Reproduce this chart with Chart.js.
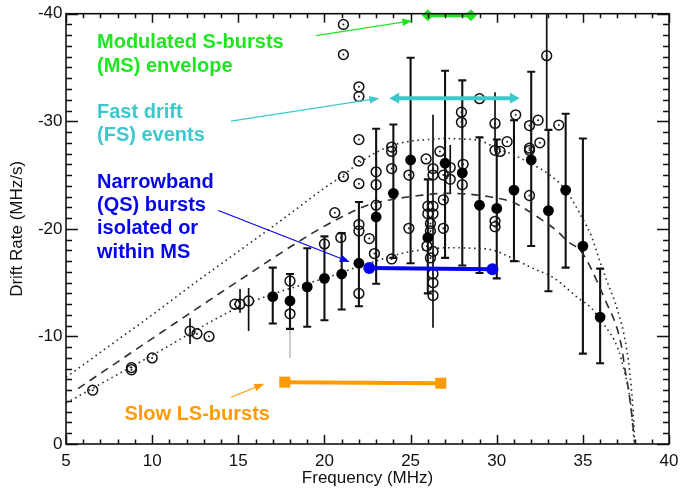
<!DOCTYPE html>
<html>
<head>
<meta charset="utf-8">
<script src="https://cdn.jsdelivr.net/npm/chart.js@4.4.1/dist/chart.umd.min.js"></script>
<style>
  html, body { margin: 0; padding: 0; background: #fff; }
  canvas { display: block; }
</style>
</head>
<body>
<canvas id="chart" width="686" height="490"></canvas>
<script>
// Mean drift rate per frequency bin, with error bar extents
const meanFreq      = [17, 18, 19, 20, 21, 22, 23, 24, 25, 26, 27, 28, 29, 30, 31, 32, 33, 34, 35, 36];
const meanRate      = [-13.7, -13.3, -14.6, -15.4, -15.8, -16.8, -21.1, -23.3, -26.4, -19.2,
                       -26.1, -25.2, -22.2, -21.9, -23.6, -26.4, -21.7, -23.6, -18.4, -11.8];
const meanErrTop    = [-16.4, -15.8, -18.2, -19.3, -19.6, -22.5, -29.3, -29.7, -35.9, -24.6,
                       -34.7, -33.8, -28.5, -28.3, -30.1, -34.6, -29.2, -30.7, -28.4, -16.3];
const meanErrBottom = [-11.2, -10.7, -10.9, -11.5, -12.5, -12.8, -14.9, -17.3, -16.8, -14.0,
                       -17.3, -16.6, -15.9, -15.4, -17.0, -18.4, -14.2, -16.4, -8.4, -7.5];

// Individual events (open circles)
const eventFreq = [6.55, 8.8, 8.8, 10.0, 12.2, 12.6, 13.3, 14.8, 15.1, 15.6,
                   18.0, 18.0, 20.0, 20.6, 20.95, 21.1, 21.1, 21.1, 22.0, 22.0,
                   22.0, 22.0, 22.0, 22.0, 22.0, 22.0, 22.6, 23.0, 23.0, 23.0,
                   22.9, 23.9, 23.9, 23.9, 23.9, 24.9, 24.9, 25.9, 26.3, 26.3,
                   26.0, 26.3, 26.0, 26.3, 26.15, 26.15, 25.95, 26.3, 26.15, 26.3,
                   26.3, 26.3, 26.7, 26.9, 27.3, 27.3, 26.9, 26.9, 27.95, 27.95,
                   28.05, 28.0, 29.0, 29.9, 29.9, 30.2, 30.6, 29.9, 29.9, 31.1,
                   31.9, 32.4, 31.9, 31.9, 32.5, 31.9, 32.9, 33.6];
const eventRate = [-5.0, -6.9, -7.1, -8.0, -10.5, -10.25, -10.0, -13.0, -13.0, -13.3,
                   -15.15, -12.1, -18.6, -21.5, -19.2, -39.0, -36.2, -24.85, -33.2, -32.3,
                   -28.3, -26.3, -24.2, -20.4, -19.8, -14.0, -19.1, -25.3, -24.1, -22.2,
                   -17.7, -27.6, -27.2, -25.6, -17.2, -25.0, -20.05, -26.5, -25.6, -25.0,
                   -22.1, -22.1, -21.4, -21.4, -20.5, -19.8, -18.4, -17.9, -17.3, -15.8,
                   -15.0, -13.8, -27.2, -25.0, -24.6, -25.7, -22.7, -20.05, -30.85, -29.9,
                   -26.0, -24.1, -32.1, -29.8, -27.3, -27.2, -28.1, -20.7, -20.2, -30.6,
                   -29.6, -30.1, -27.5, -27.3, -28.0, -23.1, -36.1, -29.65];

// Error extents attached to some individual events
const eventBarFreq   = [12.2, 15.1, 15.6, 26.3, 27.3, 29.9, 32.9];
const eventBarTop    = [-11.7, -14.4, -14.5, -30.6, -27.8, -32.7, -40.0];
const eventBarBottom = [-9.3, -12.2, -10.5, -10.8, -23.3, -27.3, -29.2];
const faintBarFreq   = [18.0];
const faintBarTop    = [-15.2];
const faintBarBottom = [-8.0];

// Model curves
const upperFreq = [5, 7.5, 10, 12.5, 15, 17.5, 20, 21, 22, 23, 24, 25, 26, 27, 28, 29, 30, 31, 32, 33,
                   34, 35, 35.5, 36, 36.5, 37, 37.5, 37.8, 37.95, 38];
const upperRate = [-6.2, -9.1, -12.0, -15.0, -17.9, -20.8, -23.8, -24.9, -26.1, -27.1, -27.8, -28.15,
                   -28.3, -28.4, -28.35, -28.2, -27.5, -26.85, -26.05, -25.1, -23.6, -20.9, -19.3,
                   -16.9, -14.7, -12.5, -9.2, -5.4, -2.0, 0];
const dashFreq  = [5.7, 10, 15, 19.3, 21, 22.5, 24, 25.5, 27, 28.2, 29.5, 30.9, 31.6, 32.6, 33.5,
                   34.1, 34.9, 35.45, 35.8, 36.4, 36.9, 37.25, 37.45, 37.65, 37.85, 37.95];
const dashRate  = [-5.15, -9.8, -15.15, -19.6, -21.1, -22.2, -22.75, -23.1, -23.3, -23.25, -23.0,
                   -22.5, -21.9, -20.85, -19.8, -18.85, -17.9, -16.4, -15.2, -13.0, -11.15, -9.0,
                   -6.85, -5.0, -2.5, -1.0];
const lowFreq   = [5, 10, 15, 16, 17.5, 20, 22, 23.6, 24.7, 26, 27.2, 28.5, 29.7, 31, 32, 33.3,
                   34.7, 35.45, 36.2, 37, 37.45, 37.75, 37.93, 38];
const lowRate   = [-3.8, -8.25, -12.7, -13.35, -14.2, -15.4, -16.5, -17.3, -17.8, -18.1, -18.25,
                   -18.2, -18.05, -17.2, -16.4, -15.45, -13.6, -12.7, -11.15, -9.0, -6.5, -4.1,
                   -1.0, 0];

// Burst-type ranges
const msFreq = [26.0, 28.5];  const msRate = [-39.85, -39.85];
const fsFreq = [24.15, 30.95]; const fsRate = [-32.15, -32.15];
const qsFreq = [22.6, 29.75]; const qsRate = [-16.35, -16.25];
const lsFreq = [17.7, 26.75]; const lsRate = [-5.75, -5.65];

// Axis ticks
const xTickLabels = [5, 10, 15, 20, 25, 30, 35, 40];
const yTickLabels = [-40, -30, -20, -10, 0];

const GREEN = '#1fe61f', CYAN = '#3cc8cc', BLUE = '#0505e8', ORANGE = '#ff9a05';

const notes = [
  { text: 'Modulated S-bursts', color: GREEN, f: 6.8, r: -36.8 },
  { text: '(MS) envelope',      color: GREEN, f: 6.8, r: -34.55 },
  { text: 'Fast drift',         color: CYAN,  f: 6.8, r: -30.33 },
  { text: '(FS) events',        color: CYAN,  f: 6.8, r: -28.15 },
  { text: 'Narrowband',         color: BLUE,  f: 6.8, r: -23.77 },
  { text: '(QS) bursts',        color: BLUE,  f: 6.8, r: -21.62 },
  { text: 'isolated or',        color: BLUE,  f: 6.8, r: -19.52 },
  { text: 'within MS',          color: BLUE,  f: 6.8, r: -17.25 },
  { text: 'Slow LS-bursts',     color: ORANGE, f: 8.39, r: -2.22 }
];
const pointers = [
  { color: GREEN,  from: [19.52, -37.97], to: [25.1, -39.35] },
  { color: CYAN,   from: [14.58, -30.02], to: [23.19, -32.15] },
  { color: BLUE,   from: [13.84, -21.71], to: [21.47, -16.93] },
  { color: ORANGE, from: [14.58, -4.34],  to: [16.51, -5.61] }
];

const pts = (xs, ys) => xs.map((v, i) => ({ x: v, y: ys[i] }));

function drawBars(ctx, x, y, fs, tops, bottoms, cap) {
  fs.forEach((f, i) => {
    const px = x.getPixelForValue(f);
    const y1 = y.getPixelForValue(tops[i]);
    const y2 = y.getPixelForValue(bottoms[i]);
    ctx.beginPath();
    ctx.moveTo(px, y1); ctx.lineTo(px, y2);
    if (cap) {
      ctx.moveTo(px - cap, y1); ctx.lineTo(px + cap, y1);
      ctx.moveTo(px - cap, y2); ctx.lineTo(px + cap, y2);
    }
    ctx.stroke();
  });
}

const decorations = {
  id: 'decorations',
  beforeDatasetsDraw(chart) {
    const { ctx, scales: { x, y }, chartArea: a } = chart;
    ctx.save();
    ctx.beginPath();
    ctx.rect(a.left, a.top, a.right - a.left, a.bottom - a.top);
    ctx.clip();
    ctx.strokeStyle = '#9a9a9a';
    ctx.lineWidth = 1;
    drawBars(ctx, x, y, faintBarFreq, faintBarTop, faintBarBottom, 0);
    ctx.strokeStyle = '#111';
    ctx.lineWidth = 1.7;
    drawBars(ctx, x, y, eventBarFreq, eventBarTop, eventBarBottom, 0);
    ctx.lineWidth = 2.1;
    drawBars(ctx, x, y, meanFreq, meanErrTop, meanErrBottom, 4);
    ctx.restore();
  },
  afterDraw(chart) {
    const { ctx, scales: { x, y }, chartArea: a } = chart;
    ctx.save();
    // frame
    ctx.strokeStyle = '#111';
    ctx.lineWidth = 1.6;
    ctx.strokeRect(a.left, a.top, a.right - a.left, a.bottom - a.top);
    // inward ticks on all four sides
    ctx.lineWidth = 1.5;
    ctx.beginPath();
    for (let v = 5; v <= 40; v += 1) {
      const px = Math.round(x.getPixelForValue(v)) + 0.5;
      const len = (v % 5 === 0) ? 9 : 4.5;
      ctx.moveTo(px, a.bottom); ctx.lineTo(px, a.bottom - len);
      ctx.moveTo(px, a.top); ctx.lineTo(px, a.top + len);
    }
    for (let v = -40; v <= 0; v += 1) {
      const py = Math.round(y.getPixelForValue(v)) + 0.5;
      const len = (v % 10 === 0) ? 12 : 6;
      ctx.moveTo(a.left, py); ctx.lineTo(a.left + len, py);
      ctx.moveTo(a.right, py); ctx.lineTo(a.right - len, py);
    }
    ctx.stroke();

    // pointer arrows
    pointers.forEach(p => {
      const x1 = x.getPixelForValue(p.from[0]), y1 = y.getPixelForValue(p.from[1]);
      const x2 = x.getPixelForValue(p.to[0]),   y2 = y.getPixelForValue(p.to[1]);
      const ang = Math.atan2(y2 - y1, x2 - x1);
      const hl = 10, hw = 3.8;
      ctx.strokeStyle = p.color; ctx.fillStyle = p.color;
      ctx.lineWidth = 1.2;
      ctx.beginPath();
      ctx.moveTo(x1, y1);
      ctx.lineTo(x2 - Math.cos(ang) * hl * 0.8, y2 - Math.sin(ang) * hl * 0.8);
      ctx.stroke();
      ctx.beginPath();
      ctx.moveTo(x2, y2);
      ctx.lineTo(x2 - Math.cos(ang) * hl - Math.sin(ang) * hw, y2 - Math.sin(ang) * hl + Math.cos(ang) * hw);
      ctx.lineTo(x2 - Math.cos(ang) * hl + Math.sin(ang) * hw, y2 - Math.sin(ang) * hl - Math.cos(ang) * hw);
      ctx.closePath();
      ctx.fill();
    });

    // labels
    ctx.font = 'bold 20px "Liberation Sans", Arial, sans-serif';
    ctx.textAlign = 'left';
    ctx.textBaseline = 'alphabetic';
    notes.forEach(n => {
      ctx.fillStyle = n.color;
      ctx.fillText(n.text, x.getPixelForValue(n.f), y.getPixelForValue(n.r));
    });
    ctx.restore();
  }
};

Chart.defaults.font.family = '"Liberation Sans", Arial, sans-serif';
Chart.defaults.color = '#111';

const curveStyle = { showLine: true, pointRadius: 0, borderColor: '#2e2e2e', borderWidth: 1.6,
                     cubicInterpolationMode: 'monotone', fill: false, order: 6 };

new Chart(document.getElementById('chart'), {
  type: 'scatter',
  data: {
    datasets: [
      Object.assign({ data: pts(upperFreq, upperRate), borderDash: [1.6, 3.6] }, curveStyle),
      Object.assign({ data: pts(dashFreq, dashRate), borderDash: [8, 6] }, curveStyle),
      Object.assign({ data: pts(lowFreq, lowRate), borderDash: [1.6, 3.6] }, curveStyle),
      { data: pts(eventFreq, eventRate), pointRadius: 4.9, pointBorderWidth: 1.5,
        pointBorderColor: '#111', pointBackgroundColor: 'rgba(0,0,0,0)', order: 5 },
      { data: pts(eventFreq, eventRate), pointRadius: 1, pointBorderWidth: 0,
        pointBackgroundColor: '#222', order: 4 },
      { data: pts(meanFreq, meanRate), pointRadius: 5.4, pointBorderWidth: 0,
        pointBackgroundColor: '#000', order: 3 },
      { data: pts(lsFreq, lsRate), showLine: true, borderColor: ORANGE, borderWidth: 4,
        pointStyle: 'rect', pointRadius: 7.8, pointBackgroundColor: ORANGE, pointBorderWidth: 0,
        clip: false, order: 1 },
      { data: pts(qsFreq, qsRate), showLine: true, borderColor: BLUE, borderWidth: 4,
        pointStyle: 'circle', pointRadius: 6, pointBackgroundColor: BLUE, pointBorderWidth: 0,
        clip: false, order: 1 },
      { data: pts(fsFreq, fsRate), showLine: true, borderColor: CYAN, borderWidth: 4,
        pointStyle: 'triangle', pointRadius: 6.5, pointRotation: [-90, 90],
        pointBackgroundColor: CYAN, pointBorderWidth: 0, clip: false, order: 1 },
      { data: pts(msFreq, msRate), showLine: true, borderColor: GREEN, borderWidth: 4,
        pointStyle: 'rectRot', pointRadius: 6, pointBackgroundColor: GREEN, pointBorderWidth: 0,
        clip: false, order: 1 }
    ]
  },
  options: {
    responsive: false,
    animation: false,
    devicePixelRatio: 1,
    events: [],
    layout: { padding: { top: 11, right: 10, left: 0, bottom: 0 } },
    plugins: { legend: { display: false }, tooltip: { enabled: false } },
    scales: {
      x: {
        type: 'linear', min: 5, max: 40,
        grid: { display: false, drawTicks: false },
        border: { display: false },
        afterBuildTicks: s => { s.ticks = xTickLabels.map(v => ({ value: v })); },
        ticks: { font: { size: 17 }, padding: 7.5, maxRotation: 0, autoSkip: false, color: '#111' },
        title: { display: true, text: 'Frequency (MHz)', font: { size: 17 },
                 padding: { top: 0, bottom: 1.3 }, color: '#111' },
        afterFit: s => { s.height = 46; }
      },
      y: {
        type: 'linear', min: -40, max: 0, reverse: true,
        grid: { display: false, drawTicks: false },
        border: { display: false },
        afterBuildTicks: s => { s.ticks = yTickLabels.map(v => ({ value: v })); },
        ticks: { font: { size: 17 }, padding: 3.5, autoSkip: false, color: '#111' },
        title: { display: true, text: 'Drift Rate (MHz/s)', font: { size: 17 },
                 padding: { top: 7.2, bottom: 0 }, color: '#111' },
        afterFit: s => { s.width = 66; }
      }
    }
  },
  plugins: [decorations]
});
</script>
</body>
</html>
